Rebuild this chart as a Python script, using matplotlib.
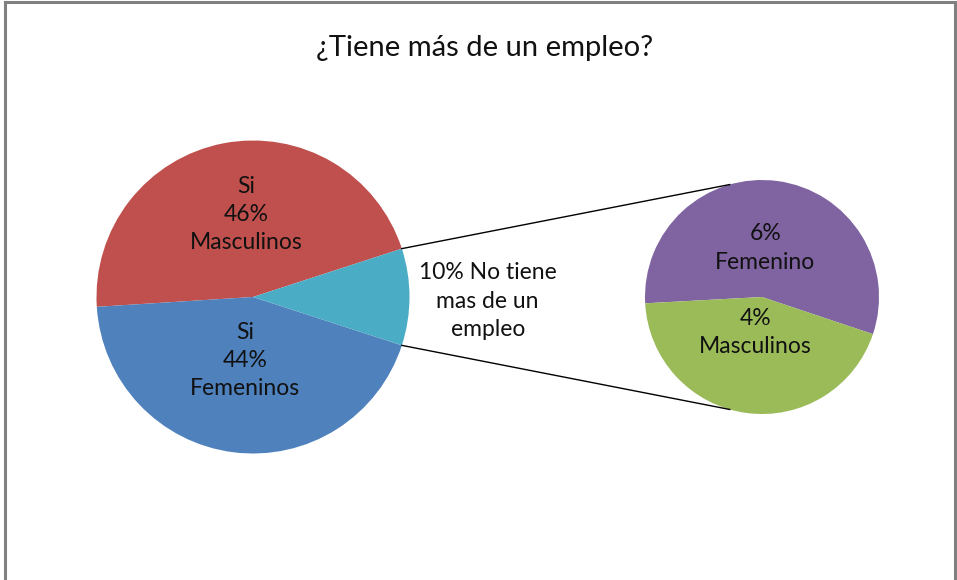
import numpy as np
import matplotlib
matplotlib.use("Agg")
import matplotlib.pyplot as plt
from matplotlib.lines import Line2D

plt.rcParams['font.family'] = ['Lato', 'DejaVu Sans']

# main pie: Si Masculinos, Si Femeninos, No tiene mas de un empleo
main_vals = [46, 44, 10]
main_names = ["Si\n{:.0f}%\nMasculinos", "Si\n{:.0f}%\nFemeninos", "{:.0f}% No tiene\nmas de un\nempleo"]
main_cols = ['#C0504D', '#4F81BD', '#4BACC6']

# secondary pie: the 10% broken down
sub_vals = [5.6, 4.4]
sub_names = ["{:.0f}%\nFemenino", "{:.0f}%\nMasculinos"]
sub_cols = ['#8064A2', '#9BBB59']

title = "¿Tiene más de un empleo?"

W, H = 957, 580
fig = plt.figure(figsize=(W/100, H/100), dpi=100)
ax = fig.add_axes([0, 0, 1, 1])

c1 = (253, H-297); r1 = 156.5
c2 = (762, H-297); r2 = 117

w1, _ = ax.pie(main_vals, colors=main_cols, startangle=18, counterclock=True,
               center=c1, radius=r1, wedgeprops=dict(linewidth=0))
w2, _ = ax.pie(sub_vals, colors=sub_cols, startangle=-18.5, counterclock=True,
               center=c2, radius=r2, wedgeprops=dict(linewidth=0))

ax.set_xlim(0, W)
ax.set_ylim(0, H)
ax.set_aspect('equal')
ax.axis('off')

def put_labels(wedges, vals, names, center, r, dists, offs):
    for w, v, n, d, o in zip(wedges, vals, names, dists, offs):
        a = np.deg2rad((w.theta1 + w.theta2) / 2 + o)
        x = center[0] + d * r * np.cos(a)
        y = center[1] + d * r * np.sin(a)
        ax.text(x, y, n.format(v), ha='center', va='center', fontsize=16.5,
                linespacing=1.42, color='#111111')

put_labels(w1, main_vals, main_names, c1, r1, [0.53, 0.41, 1.5], [-6, 0, -1])
put_labels(w2, sub_vals, sub_names, c2, r2, [0.42, 0.31, ], [4, -3])

# connector lines from the small slice to the secondary pie
cyan = w1[2]
for t1, t2 in [(cyan.theta2, 106), (cyan.theta1, 254)]:
    a1, a2 = np.deg2rad(t1), np.deg2rad(t2)
    ax.plot([c1[0] + r1*np.cos(a1), c2[0] + r2*np.cos(a2)],
            [c1[1] + r1*np.sin(a1), c2[1] + r2*np.sin(a2)],
            color='black', lw=1.0)

ax.text(485, H-48, title, ha='center', va='center', fontsize=21, color='#111111')

# chart frame
fx = lambda p: p / W
fy = lambda p: 1 - p / H
fig.add_artist(Line2D([fx(5), fx(5)], [fy(2), 0], color='#808080', lw=2.2))
fig.add_artist(Line2D([fx(5), fx(955)], [fy(2), fy(2)], color='#808080', lw=2.2))
fig.add_artist(Line2D([fx(955), fx(955)], [fy(2), 0], color='#808080', lw=2.2))

fig.savefig('out.png', dpi=100)
